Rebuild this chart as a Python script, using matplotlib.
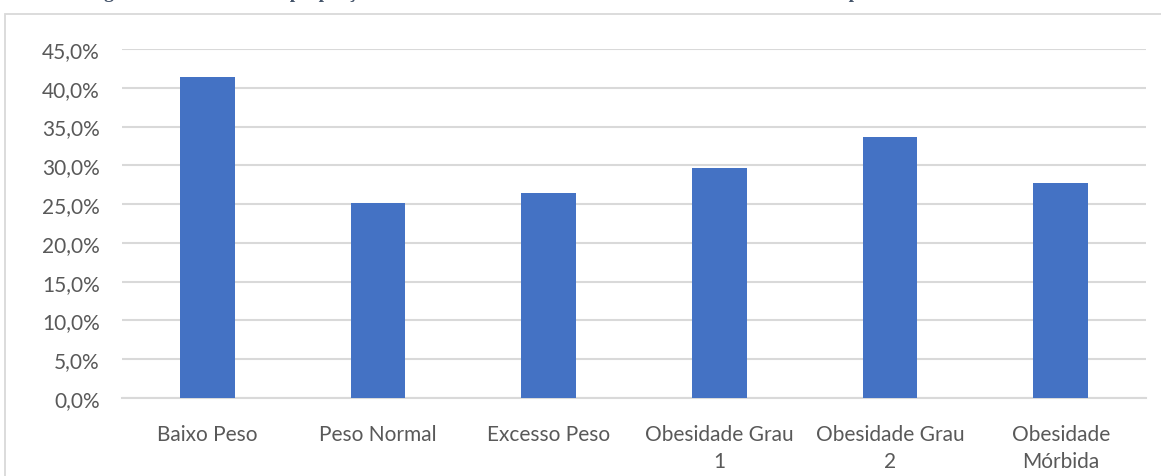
import matplotlib
matplotlib.use("Agg")
import matplotlib.pyplot as plt
from matplotlib.patches import Rectangle
from matplotlib.ticker import FuncFormatter, MultipleLocator

# IMC classes and share of patients in each one
categorias = ["Baixo Peso", "Peso Normal", "Excesso Peso",
              "Obesidade Grau\n1", "Obesidade Grau\n2", "Obesidade\nMórbida"]
percentagens = [0.414, 0.251, 0.264, 0.297, 0.336, 0.277]

titulo = "Percentagem de doentes com a proporção de internamentos em medicina interna nos últimos anos por classe de IMC"

W, H = 1161, 477
fig = plt.figure(figsize=(W / 100, H / 100), dpi=100)

# chart border, cut at the right and bottom edges
fig.patches.append(Rectangle((5 / W, -0.1), 1.2, 1 - 15 / H + 0.1,
                             transform=fig.transFigure, fill=False,
                             edgecolor="#D9D9D9", linewidth=1.3))

# caption above the chart (only its lower part falls inside the image)
fig.text(31 / W, 1 + 2.5 / H, titulo, ha="left", va="baseline",
         fontsize=14, fontweight="bold", family="Liberation Serif",
         color="#44546A")

ax = fig.add_axes([122 / W, 1 - 399 / H, (1146 - 122) / W, (399 - 50) / H])

x = range(len(categorias))
ax.bar(x, percentagens, width=0.32, color="#4472C4", zorder=3)

ax.set_xlim(-0.5, len(categorias) - 0.5)
ax.set_ylim(0, 0.45)
ax.yaxis.set_major_locator(MultipleLocator(0.05))
ax.yaxis.set_major_formatter(FuncFormatter(lambda v, p: f"{v * 100:.1f}%".replace(".", ",")))
ax.grid(axis="y", color="#D9D9D9", linewidth=1.5, zorder=0)

for s in ["top", "right", "left"]:
    ax.spines[s].set_visible(False)
ax.spines["bottom"].set_color("#D9D9D9")
ax.spines["bottom"].set_linewidth(1.5)

ax.set_xticks(list(x))
ax.set_xticklabels(categorias, linespacing=1.4)
ax.tick_params(axis="both", length=0, labelsize=15, labelcolor="#595959")
ax.tick_params(axis="x", pad=19)
ax.tick_params(axis="y", pad=16)
for lbl in ax.get_xticklabels() + ax.get_yticklabels():
    lbl.set_family("Lato")

fig.savefig("out.png", dpi=100)
